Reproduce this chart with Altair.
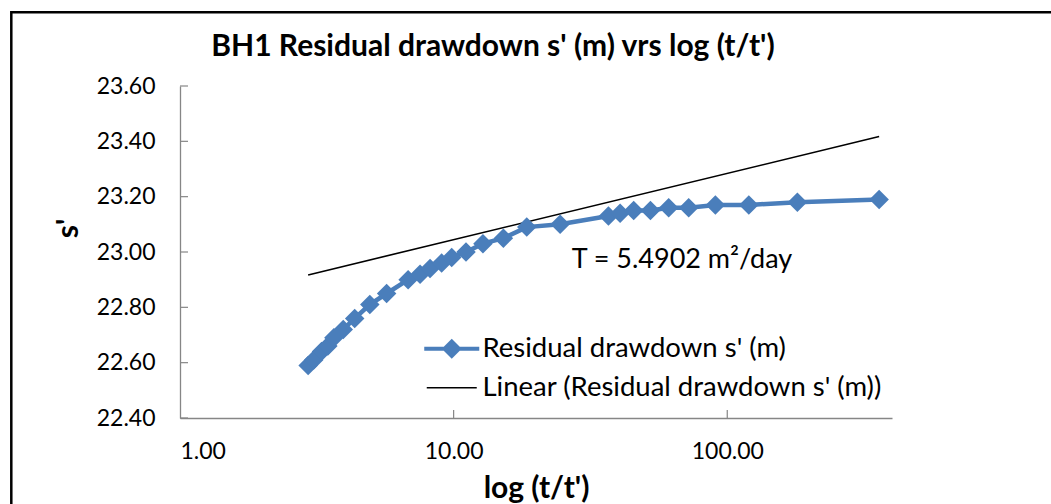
import math

import altair as alt
import pandas as pd

# Residual drawdown recovery data for BH1
t_ratio = [2.94, 3.08, 3.29, 3.47, 3.65, 3.95, 4.35, 4.94, 5.69, 6.82, 7.54, 8.20,
           9.04, 9.84, 11.1, 12.8, 15.2, 18.5, 24.5, 36.8, 40.6, 45.5, 52.4, 61.1,
           72.3, 90.5, 119.9, 180.4, 359.0]
s_resid = [22.59, 22.61, 22.64, 22.66, 22.69, 22.72, 22.76, 22.81, 22.85, 22.90, 22.92,
           22.94, 22.96, 22.98, 23.00, 23.03, 23.05, 23.09, 23.10, 23.13, 23.14, 23.15,
           23.15, 23.16, 23.16, 23.17, 23.17, 23.18, 23.19]

# Straight-line fit on the semi-log plot: s' = a + b*log10(t/t')
fit_intercept = 22.805
fit_slope = 0.2396
trend_x = [t_ratio[0], t_ratio[-1]]

series_names = ["Residual drawdown s' (m)", "Linear (Residual drawdown s' (m))"]
y_ticks = [22.4, 22.6, 22.8, 23.0, 23.2, 23.4, 23.6]
x_ticks = [1, 10, 100]
x_inner_ticks = [10, 100]
note_text = "T = 5.4902 m\u00b2/day"
note_x, note_y = 27.0, 22.943
chart_title = "BH1 Residual drawdown s' (m) vrs log (t/t')"

FONT = "Lato"
BLUE = "#4a7ebb"
GREY = "#868686"
LEFT, TOP = 180, 86
W, H = 712, 332

df = pd.DataFrame({"t": t_ratio, "s": s_resid})
trend_df = pd.DataFrame({
    "t": trend_x,
    "s": [fit_intercept + fit_slope * math.log10(v) for v in trend_x],
})
legend_df = pd.DataFrame({"series": series_names})
ytick_df = pd.DataFrame({"v": y_ticks})
xtick_df = pd.DataFrame({"v": x_inner_ticks})
note_df = pd.DataFrame({"t": [note_x], "s": [note_y], "label": [note_text]})
single_df = pd.DataFrame({"k": [0]})

x_scale = alt.Scale(type="log", domain=[1, 400], nice=False)
y_scale = alt.Scale(domain=[22.4, 23.6], nice=False, zero=False)

x_enc = alt.X(
    "t:Q", scale=x_scale,
    axis=alt.Axis(values=x_ticks, format=".2f", title="log (t/t')", grid=False,
                  ticks=False, labelPadding=22, titleY=70, titleBaseline="middle",
                  titleFontWeight="bold", titleFontSize=30),
)
y_enc = alt.Y(
    "s:Q", scale=y_scale,
    axis=alt.Axis(values=y_ticks, format=".2f", title="s'", grid=False, ticks=False,
                  labelPadding=25, titleAngle=270, titleX=-112, titleY=142,
                  titleAlign="center", titleBaseline="middle",
                  titleFontWeight="bold", titleFontSize=30),
)

line = alt.Chart(df).mark_line(color=BLUE, strokeWidth=4.5).encode(x=x_enc, y=y_enc)
points = alt.Chart(df).mark_point(shape="diamond", filled=True, size=380,
                                  color=BLUE, opacity=1).encode(x="t:Q", y="s:Q")
trend = alt.Chart(trend_df).mark_line(color="black", strokeWidth=1.6).encode(
    x="t:Q", y="s:Q")

# inward tick marks on both axes
ytick_rules = alt.Chart(ytick_df).mark_rule(color=GREY, strokeWidth=1.2).encode(
    y=alt.Y("v:Q", scale=y_scale), x=alt.value(0), x2=alt.value(8))
xtick_rules = alt.Chart(xtick_df).mark_rule(color=GREY, strokeWidth=1.2).encode(
    x=alt.X("v:Q", scale=x_scale), y=alt.value(H), y2=alt.value(H - 8))

note = alt.Chart(note_df).mark_text(align="left", baseline="alphabetic",
                                    font=FONT, fontSize=27, color="black").encode(
    x="t:Q", y="s:Q", text="label:N")

# legend carrier: points parked far outside the canvas; only their legend shows
# (a bar with a diamond for the data series, a thin bar for the fitted line)
sym_series = ("M-2.75,-0.2L-0.8,-0.2L0,-1L0.8,-0.2L2.75,-0.2L2.75,0.2"
              "L0.8,0.2L0,1L-0.8,0.2L-2.75,0.2Z")
sym_linear = "M-2.5,-0.08L2.5,-0.08L2.5,0.08L-2.5,0.08Z"
legend_layer = alt.Chart(legend_df).mark_point(filled=True, opacity=1).encode(
    x=alt.value(-3000), y=alt.value(-3000),
    shape=alt.Shape("series:N", scale=alt.Scale(domain=series_names,
                                                range=[sym_series, sym_linear]),
                    legend=alt.Legend(title=None)),
    color=alt.Color("series:N", scale=alt.Scale(domain=series_names,
                                                range=[BLUE, "black"]),
                    legend=alt.Legend(title=None)),
)

title_mark = alt.Chart(single_df).mark_text(
    text=chart_title, font=FONT, fontSize=30, fontWeight="bold", color="black",
    align="center", baseline="alphabetic",
).encode(x=alt.value(493 - LEFT), y=alt.value(56 - TOP))

frame = alt.Chart(single_df).mark_rect(filled=False, stroke="black", strokeWidth=2.5).encode(
    x=alt.value(11.3 - LEFT), x2=alt.value(1051 - LEFT + 20),
    y=alt.value(12.2 - TOP), y2=alt.value(504 - TOP + 20))

chart = alt.layer(
    frame, ytick_rules, xtick_rules, trend, line, points, note, title_mark, legend_layer
).properties(
    width=W, height=H,
    autosize=alt.AutoSizeParams(type="none"),
    padding={"left": LEFT, "top": TOP, "right": 1051 - LEFT - W, "bottom": 504 - TOP - H},
).configure(
    font=FONT,
    background="white",
).configure_view(
    strokeWidth=0,
).configure_axis(
    domainColor=GREY, domainWidth=1.3, labelFont=FONT, labelFontSize=23,
    labelColor="black", titleFont=FONT, titleColor="black",
).configure_legend(
    orient="none", legendX=258, legendY=249, padding=0,
    labelFont=FONT, labelFontSize=27.5, labelColor="black", labelLimit=0,
    labelOffset=17, symbolSize=400, symbolStrokeWidth=0, symbolOpacity=1,
    rowPadding=10,
)

chart.save("out.html", embed_options={"renderer": "svg", "actions": False})
